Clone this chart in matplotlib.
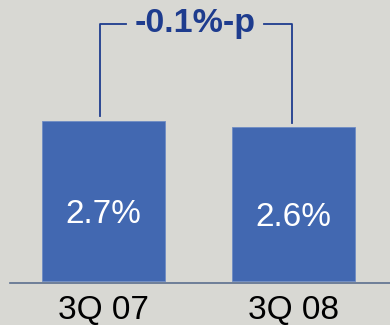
import matplotlib.pyplot as plt

categories = ['3Q 07', '3Q 08']
values = [2.7, 2.6]
value_labels = ['2.7%', '2.6%']
change_label = '-0.1%-p'

bg = '#D8D8D3'
bar_color = '#4268B1'
dark_blue = '#1E3C8E'

plt.rcParams['font.family'] = ['Liberation Sans', 'DejaVu Sans']

fig = plt.figure(figsize=(3.9, 3.25), dpi=100, facecolor=bg)
ax = fig.add_axes([0, 0, 1, 1], facecolor=bg)

x = list(range(len(categories)))
ax.bar(x, values, width=0.647, color=bar_color, edgecolor='#6F8CC4', linewidth=0.6, zorder=2)

# baseline
ax.plot([-0.49, 1.6], [-0.035, -0.035], color='#5C6F8E', linewidth=1.2, zorder=3)

for i, (v, lab) in enumerate(zip(values, value_labels)):
    ax.text(i, v * 0.415, lab, ha='center', va='center', color='white', fontsize=24)
    ax.text(i, -0.5, categories[i], ha='center', va='center', color='black', fontsize=24)

# bracket showing the change
top = 4.34
lx, rx = -0.018, 0.99
ax.plot([lx, lx, 0.118], [values[0] + 0.08, top, top], color=dark_blue, linewidth=1.3)
ax.plot([0.845, rx, rx], [top, top, values[1] + 0.06], color=dark_blue, linewidth=1.3)
ax.text(0.482, top, change_label, ha='center', va='center', color=dark_blue,
        fontsize=24.5, fontweight='bold')

ax.set_xlim(-0.545, 1.508)
ax.set_ylim(-0.7425, 4.742)
ax.axis('off')

fig.savefig('out.png', dpi=100, facecolor=bg)
